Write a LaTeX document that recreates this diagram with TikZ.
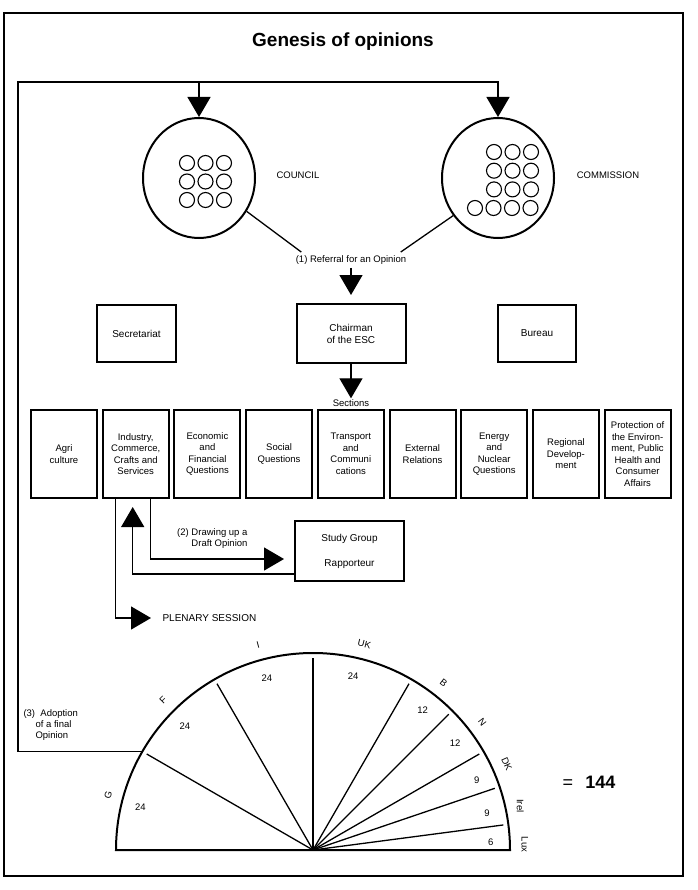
\documentclass[tikz,border=0pt]{standalone}
\usepackage{fontspec}
\setmainfont{Liberation Sans}
\usetikzlibrary{arrows.meta,shapes.geometric}

\begin{document}
\begin{tikzpicture}[x=1pt,y=-1pt,
  txt/.style={font=\fontsize{9.5}{11.3}\selectfont,align=center},
  unitbox/.style={draw,line width=2pt,minimum width=79pt,minimum height=57pt,font=\fontsize{10}{12}\selectfont,align=center},
  secbox/.style={draw,line width=2pt,minimum width=66pt,minimum height=88pt,inner sep=1pt,font=\fontsize{9.5}{11.5}\selectfont,align=center},
  bodyring/.style={draw,ellipse,line width=2pt,minimum width=112pt,minimum height=120pt},
  seat/.style={draw,circle,line width=1.1pt,minimum size=15pt,inner sep=0pt},
  conn/.style={line width=1.3pt},
  bigarrow/.style={conn,-{Triangle[length=20pt,width=23pt]}}]
\useasboundingbox (0,0) rectangle (697,890);
\draw[line width=1.3pt] (4,13) rectangle (683,876);
\node[font=\bfseries\fontsize{19}{22}\selectfont] (title) at (343,42) {Genesis of opinions};

\node[bodyring] (council) at (199,178) {};
\node[bodyring] (commission) at (498,178) {};
\foreach \i in {0,1,2}
  \foreach \j in {0,1,2}
    \node[seat] at (187+18.5*\i,163+18.5*\j) {};
\foreach \i in {0,1,2}
  \foreach \j in {0,1,2}
    \node[seat] at (494+18.5*\i,152+18.7*\j) {};
\foreach \i in {0,1,2,3}
  \node[seat] at (475+18.5*\i,208) {};
\node[txt] (councillbl) at (298,175) {COUNCIL};
\node[txt] (commissionlbl) at (608,175) {COMMISSION};

\node[txt] (refer) at (351,260) {(1) Referral for an Opinion};
\draw[conn] (council.-35) -- ([xshift=9pt]refer.north west);
\draw[conn] (commission.-140) -- ([xshift=-9pt]refer.north east);

\node[unitbox] (secretariat) at (136.5,333.5) {Secretariat};
\node[unitbox,minimum width=109pt,minimum height=59pt] (chair) at (351,333.5) {Chairman\\of the ESC};
\node[unitbox,minimum width=78pt] (bureau) at (537,333.5) {Bureau};
\draw[bigarrow] (refer.south) -- ([yshift=8pt]chair.north);

\node[txt,inner sep=1pt] (sections) at (351,403) {Sections};
\draw[bigarrow] (chair.south) -- (sections.north);
\foreach \i/\t in {1/{Agri\\culture},2/{Industry,\\Commerce,\\Crafts and\\Services},
  3/{Economic\\and\\Financial\\Questions},4/{Social\\Questions},
  5/{Transport\\and\\Communi\\cations},6/{External\\Relations},
  7/{Energy\\and\\Nuclear\\Questions},8/{Regional\\Develop-\\ment},
  9/{Protection of\\the Environ-\\ment, Public\\Health and\\Consumer\\Affairs}}
  \node[secbox] (s\i) at (64+71.7*\i-71.7,454) {\t};

\node[unitbox,minimum width=109pt,minimum height=60pt] (study) at (349.5,551) {Study Group\\[13pt]Rapporteur};
\node[txt,align=right,anchor=east] (draft) at (251,538.5) {(2) Drawing up a\\Draft Opinion};
\draw[bigarrow] ([xshift=15pt]s2.south) |- ([xshift=-10pt,yshift=-8pt]study.west);
\draw[bigarrow] ([yshift=-23pt]study.west) -| ([xshift=-3pt,yshift=-8pt]s2.south);
\node[txt,anchor=west,font=\fontsize{10}{12}\selectfont] (plenary) at (159,618) {PLENARY SESSION};
\draw[bigarrow] ([xshift=-20pt]s2.south) |- ([xshift=-8pt]plenary.west);

\begin{scope}[shift={(313,850)},yscale=-1]
\coordinate (hub) at (0,0);
\coordinate (gfedge) at (150:197);
\draw[line width=2pt] (-197,0) -- (197,0) arc[start angle=0,end angle=180,radius=197] -- cycle;
\foreach \a in {150,120,90,60,45,30,18.75,7.5}
  \draw[conn] (hub) -- (\a:192);
\foreach \n/\v/\la/\na/\r in {G/24/165/166/75,F/24/135/136/45,I/24/105/105/15,UK/24/76/77/-14,B/12/52/52/-38,
  N/12/37/37/-53,DK/9/24/23/-66,Irel/9/12/12/-90,Lux/6/1.5/2.5/-90}
{
  \node[txt,rotate=\r] (c\n) at (\la:212) {\n};
  \node[txt] (v\n) at (\na:178) {\v};
}
\end{scope}

\coordinate (loopTL) at (18,82);
\draw[bigarrow] (gfedge) -| (loopTL) -| (commission.north);
\draw[bigarrow] (council.north |- loopTL) -- (council.north);
\node[txt,align=left,anchor=west] (adopt) at (20,725) {(3)\ \ Adoption\\\hspace*{12pt}of a final\\\hspace*{12pt}Opinion};

\node[font=\fontsize{18}{20}\selectfont] (total) at (589,782) {=\hspace{12pt}\textbf{144}};
\end{tikzpicture}
\end{document}
